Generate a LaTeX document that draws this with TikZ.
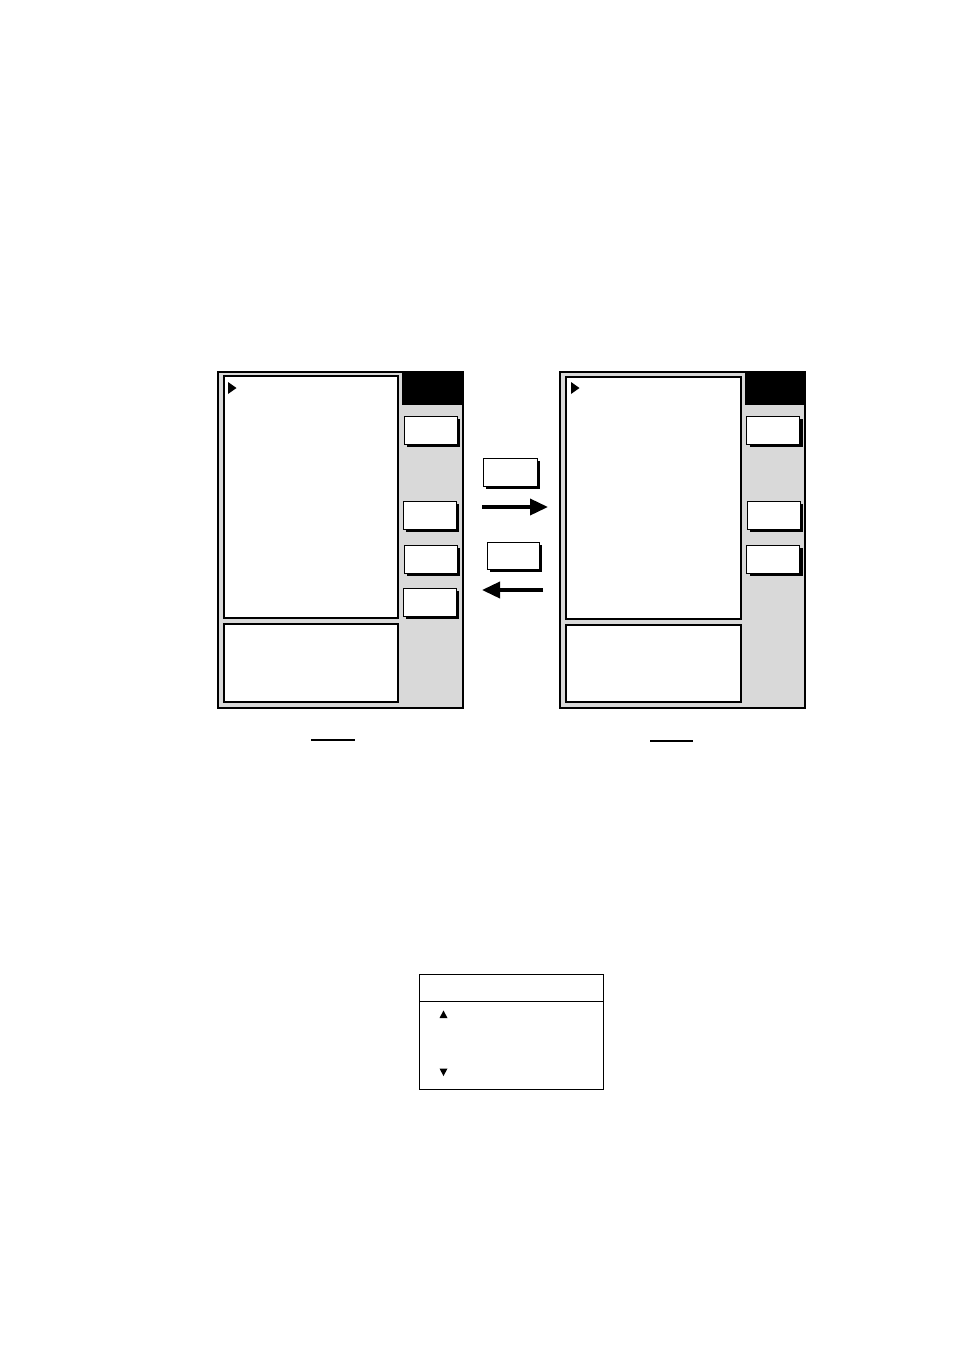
\documentclass[tikz,border=0pt]{standalone}
\usepackage{xcolor}
\usepackage{tikz}
\usetikzlibrary{shadows}
\usetikzlibrary{arrows.meta}
\definecolor{panelgray}{gray}{0.85}

\begin{document}
\begin{tikzpicture}[x=1pt, y=-1pt, frame/.style={draw, line width=2pt, fill=panelgray}, pane/.style={draw, line width=1.3pt, fill=white}, keybtn/.style={draw, line width=0.8pt, fill=white, inner sep=0pt, minimum width=53pt, minimum height=28pt, drop shadow={shadow xshift=3pt, shadow yshift=-3pt, fill=black, opacity=1}}, bigarrow/.style={line width=3.6pt, -{Triangle[length=18pt, width=16pt]}}]
  \useasboundingbox (0,0) rectangle (954,1350);
  % left screen
  \draw[frame] (218,372) rectangle (463,708);
  \fill (402,372) rectangle (463,405);
  \draw[pane] (224,376) rectangle (398,618);
  \draw[pane] (224,624) rectangle (398,702);
  \fill (228,382) -- (236.5,388) -- (228,394) -- cycle;
  \node[keybtn] (leftA) at (430.5,430) {};
  \node[keybtn] (leftB) at (429.5,515) {};
  \node[keybtn] (leftC) at (430.5,559) {};
  \node[keybtn] (leftD) at (429.5,602) {};
  % right screen
  \draw[frame] (560,372) rectangle (805,708);
  \fill (745,372) rectangle (805,405);
  \draw[pane] (566,377) rectangle (741,619);
  \draw[pane] (566,625) rectangle (741,702);
  \fill (571,382) -- (579.5,388) -- (571,394) -- cycle;
  \node[keybtn] (rightA) at (773,430) {};
  \node[keybtn] (rightB) at (773.5,515) {};
  \node[keybtn] (rightC) at (773,559) {};
  % keys and arrows between screens
  \node[keybtn, minimum width=54pt] (fwdkey) at (510,472) {};
  \node[keybtn, minimum width=52pt, minimum height=27pt] (backkey) at (513,555.5) {};
  \coordinate (fwdS) at (482,507);
  \coordinate (fwdE) at (548,507);
  \coordinate (backS) at (543,590);
  \coordinate (backE) at (482,590);
  \draw[bigarrow] (fwdS) -- (fwdE);
  \draw[bigarrow] (backS) -- (backE);
  % captions
  \draw[line width=1.3pt] (311,740) -- (355,740);
  \draw[line width=1.8pt] (650,741) -- (693,741);
  % scroll window
  \draw[line width=1pt] (419,974) rectangle (603,1089);
  \draw[line width=1pt] (419,1001) -- (603,1001);
  \fill (439.5,1018) -- (443.5,1010.5) -- (447.5,1018) -- cycle;
  \fill (439.5,1068.5) -- (443.5,1076) -- (447.5,1068.5) -- cycle;
\end{tikzpicture}
\end{document}
